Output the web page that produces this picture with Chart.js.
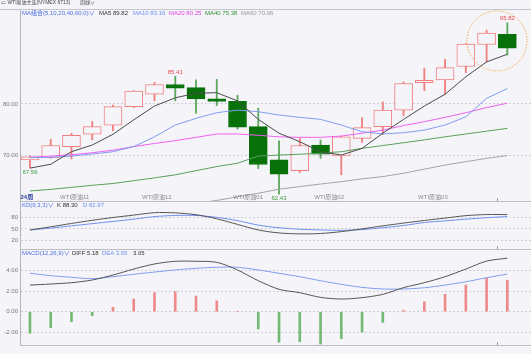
<!DOCTYPE html>
<html>
<head>
<meta charset="utf-8">
<script src="https://cdn.jsdelivr.net/npm/chart.js@4.4.0/dist/chart.umd.min.js"></script>
<style>
  html, body { margin: 0; padding: 0; background: #f5f5f9; }
  body { width: 531px; height: 354px; position: relative; overflow: hidden;
         font-family: "Liberation Sans", "Noto Sans CJK SC", sans-serif; }
  canvas { position: absolute; left: 0; }
  .t { position: absolute; font-size: 6px; line-height: 8px; white-space: nowrap; }
  #topline { position: absolute; left: 0; top: 9px; width: 531px; height: 1px; background: #c6c6ce; }
</style>
</head>
<body>
<canvas id="main" width="531" height="192" style="top:10px"></canvas>
<canvas id="kd" width="531" height="49" style="top:201px"></canvas>
<canvas id="macd" width="531" height="105" style="top:249px"></canvas>

<div id="topline"></div>
<div class="t" style="left:1px;top:-2px;color:#444;font-size:5px">▭ WTI原油主连(NYMEX 6713)</div>
<div class="t" style="left:80px;top:-2px;color:#444;font-size:5px">周线∨</div>

<div class="t" style="left:22px;top:9px;color:#4a6ee0">MA组合(5,10,20,40,60,0)∨</div>
<div class="t" style="left:99px;top:9px;color:#333">MA5 89.82</div>
<div class="t" style="left:133px;top:9px;color:#6a8ef0">MA10 83.16</div>
<div class="t" style="left:169px;top:9px;color:#e040e0">MA20 80.25</div>
<div class="t" style="left:205px;top:9px;color:#2f8f2f">MA40 75.38</div>
<div class="t" style="left:241px;top:9px;color:#999">MA60 70.06</div>

<div class="t" style="left:22px;top:201px;color:#4a6ee0">KD(9,3,3)∨</div>
<div class="t" style="left:57px;top:201px;color:#333">K 88.30</div>
<div class="t" style="left:83px;top:201px;color:#6a8ef0">D 82.97</div>

<div class="t" style="left:22px;top:249px;color:#4a6ee0">MACD(12,26,9)∨</div>
<div class="t" style="left:72px;top:249px;color:#333">DIFF 5.18</div>
<div class="t" style="left:102px;top:249px;color:#6a8ef0">DEA 3.65</div>
<div class="t" style="left:133px;top:249px;color:#333">3.05</div>

<script>
// weekly WTI candles, oldest first
const opens  = [69.1, 69.6, 71.7, 74.1, 75.85, 79.5, 81.9, 83.8, 83.2, 81.0, 80.5, 75.6,
                69.1, 67.0, 72.0, 69.9, 73.3, 75.6, 78.8, 84.15, 84.7, 87.3, 91.6, 93.6];
const closes = [69.7, 71.9, 73.9, 75.6, 79.5, 82.5, 83.8, 83.1, 81.0, 80.5, 75.5, 68.2,
                66.3, 71.9, 70.2, 73.6, 75.4, 78.8, 84.0, 84.6, 87.1, 91.7, 93.8, 90.9];
const highs  = [69.9, 73.1, 74.3, 76.6, 79.8, 82.6, 84.2, 85.41, 84.7, 84.8, 81.7, 79.2,
                72.8, 73.3, 73.0, 73.7, 77.3, 80.4, 84.3, 87.0, 88.7, 91.8, 94.4, 95.82];
const lows   = [67.56, 69.4, 69.3, 73.0, 74.8, 79.3, 80.6, 80.6, 78.2, 79.7, 75.1, 67.4,
                62.43, 66.6, 69.4, 66.2, 72.5, 74.1, 77.7, 82.6, 81.9, 86.1, 88.2, 89.55];

const ma5  = [67.5, 68.25, 70.7, 72.0, 74.1, 76.9, 79.6, 81.2, 82.1, 82.2, 80.6, 77.0,
              74.3, 72.65, 70.7, 70.05, 71.35, 74.3, 77.0, 79.6, 81.9, 85.3, 88.2, 89.7];
const ma10 = [69.55, 69.6, 69.85, 70.25, 70.7, 71.7, 73.6, 75.9, 77.2, 78.3, 78.8, 78.5,
              77.85, 77.4, 77.0, 75.9, 74.6, 74.15, 74.4, 74.9, 75.9, 77.5, 81.1, 83.0];
const ma20 = [69.6, 69.85, 70.1, 70.5, 71.0, 71.7, 72.3, 72.85, 73.5, 74.15, 74.15, 73.9,
              73.6, 73.5, 73.5, 73.75, 74.3, 74.9, 75.8, 76.55, 77.4, 78.3, 79.3, 80.15];
const ma40 = [63.05, 63.35, 63.75, 64.15, 64.5, 65.05, 65.6, 66.2, 67.0, 67.8, 68.45, 69.85,
              70.05, 70.2, 70.4, 70.7, 71.35, 71.9, 72.45, 73.0, 73.6, 74.15, 74.7, 75.25];
const ma60 = [null, null, null, null, null, null, null, null, 60.6, 61.2, 61.9, 62.6,
              63.4, 63.9, 64.4, 64.85, 65.4, 65.85, 66.5, 67.3, 68.1, 68.75, 69.4, 69.95];

const kLine = [47, 55.5, 64.5, 73, 80.5, 87, 93.5, 93, 88, 77, 62, 47,
               39, 36.5, 37.5, 42.5, 50, 58, 65.5, 72.5, 79, 85.5, 88.5, 88.3];
const dLine = [47, 52, 58, 64, 70, 76, 83, 86, 86, 81, 72, 60,
               53, 49, 47, 46, 48, 53, 59, 67, 71.5, 76, 80, 82.97];

const diffLine = [2.58, 2.68, 2.81, 3.07, 3.55, 4.13, 4.62, 4.88, 4.88, 4.78, 4.04, 3.0,
                  2.17, 1.84, 1.39, 1.23, 1.36, 1.68, 2.33, 2.81, 3.39, 4.13, 4.9, 5.18];
const deaLine  = [3.72, 3.49, 3.33, 3.2, 3.39, 3.62, 3.84, 4.04, 4.2, 4.3, 4.3, 4.04,
                  3.72, 3.39, 3.0, 2.65, 2.36, 2.2, 2.2, 2.32, 2.58, 2.9, 3.29, 3.65];
const macdHist = [-2.09, -1.55, -0.97, -0.39, 0.43, 1.23, 1.84, 1.94, 1.52, 1.06, 0, -1.67,
                  -2.96, -2.9, -3.13, -2.61, -1.97, -1.03, 0.13, 0.97, 1.68, 2.58, 3.23, 3.05];

const mainTicks = [70, 80];
const kdTicks = [20, 50, 80];
const macdTicks = [-2, 0, 2, 4];
const monthTickIdx = [2, 16];
const monthLabels = ['2021/10', '2022/01'];
const periodLabel = '24周';
const contractLabels = ['WTI原油11', 'WTI原油12', 'WTI原油01', 'WTI原油02', 'WTI原油03'];
const contractIdx = [1.45, 5.4, 9.8, 13.7, 18.7];
const markHigh = [7, 23];
const markLow = [0, 12];
const cursorIdx = 22.5;

const FONT = '"Liberation Sans", "Noto Sans CJK SC", sans-serif';
const BG = '#f5f5f9';
const pts = arr => arr.map((v, i) => ({x: i, y: v}));

function xAxis(extra) {
  return Object.assign({
    type: 'linear', min: -0.48, max: 24.14, offset: false,
    ticks: {display: false},
    grid: {display: false},
    border: {color: '#bcbcc4'},
    afterFit: s => { s.height = 1; s.paddingLeft = 0; s.paddingRight = 0; }
  }, extra || {});
}

function yAxis(min, max, list, fmt) {
  return {
    position: 'left', min: min, max: max,
    afterBuildTicks: s => { s.ticks = list.map(v => ({value: v})); },
    afterFit: s => { s.width = 20; s.paddingTop = 0; s.paddingBottom = 0; },
    ticks: {font: {size: 6, family: FONT}, color: '#777', padding: 2, callback: fmt},
    grid: {color: '#d0d0d8', drawTicks: false},
    border: {color: '#b4b4bc', dash: [2, 2]}
  };
}

function line(data, color) {
  return {type: 'line', data: pts(data), borderColor: color, borderWidth: 1,
          pointRadius: 0, tension: 0, order: 0};
}

const baseOpts = {
  responsive: false, animation: false, events: [],
  layout: {padding: 0},
  plugins: {legend: {display: false}, tooltip: {enabled: false}}
};

const cursorTick = {
  id: 'cursorTick',
  afterDraw(chart) {
    const {ctx, chartArea, scales} = chart;
    const px = Math.round(scales.x.getPixelForValue(cursorIdx)) + 0.5;
    ctx.save();
    ctx.strokeStyle = '#999';
    ctx.lineWidth = 1;
    ctx.beginPath();
    ctx.moveTo(px, chartArea.bottom - 3);
    ctx.lineTo(px, chartArea.bottom);
    ctx.stroke();
    ctx.restore();
  }
};

const mainNotes = {
  id: 'mainNotes',
  afterDatasetsDraw(chart) {
    const {ctx, chartArea, scales: {x, y}} = chart;
    ctx.save();
    ctx.font = '6px ' + FONT;
    ctx.textAlign = 'center';
    ctx.fillStyle = '#e8494f';
    ctx.textBaseline = 'bottom';
    markHigh.forEach(i => ctx.fillText(highs[i].toFixed(2), x.getPixelForValue(i), y.getPixelForValue(highs[i]) - 1));
    ctx.fillStyle = '#3a9a3a';
    ctx.textBaseline = 'top';
    markLow.forEach(i => ctx.fillText(lows[i].toFixed(2), x.getPixelForValue(i), y.getPixelForValue(lows[i]) + 1.5));

    // dotted ring round the last two weeks
    ctx.strokeStyle = '#f5a446';
    ctx.lineWidth = 1;
    ctx.setLineDash([1.5, 1.5]);
    ctx.beginPath();
    ctx.arc(x.getPixelForValue(22.5), y.getPixelForValue(92.3), 30, 0, Math.PI * 2);
    ctx.stroke();
    ctx.setLineDash([]);

    // contract names along the bottom of the price panel
    const by = chartArea.bottom - 2;
    ctx.textAlign = 'left';
    ctx.textBaseline = 'alphabetic';
    ctx.font = 'bold 6px ' + FONT;
    ctx.fillStyle = '#2d3c9c';
    ctx.fillText(periodLabel, chartArea.left + 0.5, by);
    ctx.font = '6px ' + FONT;
    ctx.fillStyle = '#8a8a8a';
    contractLabels.forEach((t, i) => ctx.fillText(t, x.getPixelForValue(contractIdx[i]), by));
    ctx.restore();
  }
};

const up = opens.map((o, i) => closes[i] >= o);

new Chart(document.getElementById('main'), {
  type: 'line',
  data: {
    datasets: [
      line(ma5, '#4a4a4a'),
      line(ma10, '#7f9cf0'),
      line(ma20, '#f060f0'),
      line(ma40, '#5a9f5a'),
      line(ma60, '#a4a4a4'),
      {
        type: 'bar', order: 2, grouped: false, barThickness: 18,
        data: opens.map((o, i) => ({x: i, y: [Math.min(o, closes[i]), Math.max(o, closes[i])]})),
        backgroundColor: up.map(u => u ? BG : '#097109'),
        borderColor: up.map(u => u ? '#f07e7e' : '#097109'),
        borderWidth: 1, borderSkipped: false
      },
      {
        type: 'bar', order: 3, grouped: false, barThickness: 1.2,
        data: highs.map((h, i) => ({x: i, y: [lows[i], h]})),
        backgroundColor: up.map(u => u ? '#f08080' : '#5fa85f'),
        borderWidth: 0
      }
    ]
  },
  options: Object.assign({}, baseOpts, {
    scales: {
      x: xAxis(),
      y: yAxis(61.09, 98.32, mainTicks, v => v.toFixed(2))
    }
  }),
  plugins: [mainNotes, cursorTick]
});

new Chart(document.getElementById('kd'), {
  type: 'line',
  data: {
    datasets: [
      Object.assign(line(kLine, '#555'), {tension: 0.3}),
      Object.assign(line(dLine, '#6f8ff0'), {tension: 0.3})
    ]
  },
  options: Object.assign({}, baseOpts, {
    scales: {
      x: xAxis(),
      y: yAxis(-4.21, 124.93, kdTicks, v => String(v))
    }
  }),
  plugins: [cursorTick]
});

new Chart(document.getElementById('macd'), {
  type: 'line',
  data: {
    datasets: [
      Object.assign(line(diffLine, '#555'), {tension: 0.3}),
      Object.assign(line(deaLine, '#7f9cf0'), {tension: 0.3}),
      {
        type: 'bar', order: 2, grouped: false, barThickness: 2,
        data: pts(macdHist),
        backgroundColor: macdHist.map(v => v >= 0 ? '#ef8a8a' : '#74b974'),
        borderWidth: 0
      }
    ]
  },
  options: Object.assign({}, baseOpts, {
    scales: {
      x: xAxis({
        afterBuildTicks: s => { s.ticks = monthTickIdx.map(v => ({value: v})); },
        afterFit: s => { s.height = 9; s.paddingLeft = 0; s.paddingRight = 0; },
        ticks: {
          display: true, autoSkip: false, maxRotation: 0, align: 'start', padding: 1,
          font: {size: 6, family: FONT}, color: '#777',
          callback: v => monthLabels[monthTickIdx.indexOf(v)]
        }
      }),
      y: yAxis(-3.22, 6.07, macdTicks, v => v.toFixed(2))
    }
  }),
  plugins: [cursorTick]
});
</script>
</body>
</html>
